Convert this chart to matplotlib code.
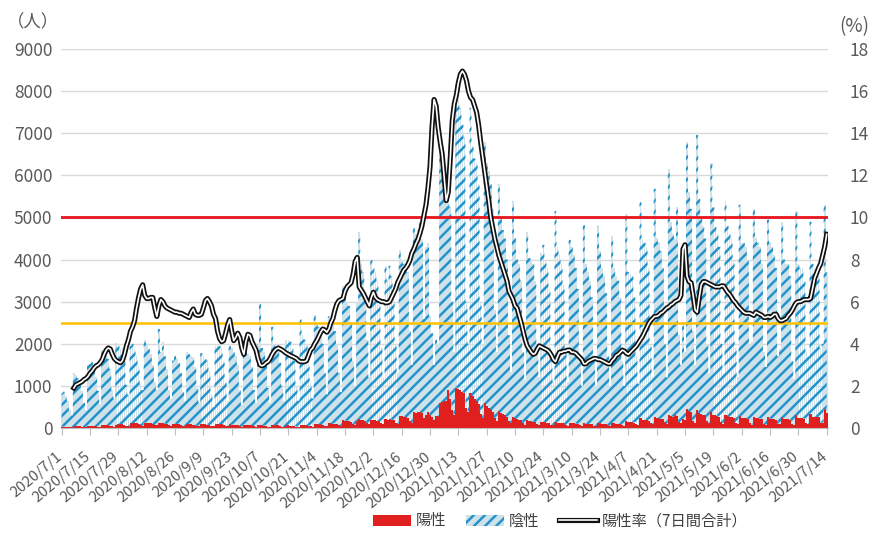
import numpy as np
import pandas as pd
import matplotlib
matplotlib.use('Agg')
import matplotlib.pyplot as plt
from matplotlib.patches import Patch
from matplotlib.lines import Line2D
import matplotlib.patheffects as pe
import matplotlib.transforms as mtransforms

plt.rcParams['font.family'] = ['Noto Sans CJK JP', 'DejaVu Sans']
plt.rcParams['hatch.linewidth'] = 1.8

# ---------------- data ----------------
start_date = '2020-07-01'

# total tested per day (positive + negative)
tested = [
    820, 860, 760, 640, 420, 300,
    1300, 1270, 1180, 1060, 880, 600, 420,
    1500, 1530, 1560, 1420, 1200, 880, 560,
    1850, 1820, 1740, 1640, 1400, 900, 700,
    2030, 1950, 1880, 1900, 1600, 1020, 780,
    1950, 2000, 1880, 1720, 1500, 1050, 900,
    2080, 2000, 1880, 1760, 1500, 1100, 900,
    2350, 1800, 2050, 1700, 1400, 900, 700,
    1600, 1720, 1650, 1550, 1300, 850, 650,
    1800, 1750, 1700, 1680, 1450, 950, 600,
    1780, 1720, 1650, 1600, 1350, 800, 500,
    1950, 2000, 1950, 1900, 1600, 1100, 650,
    1950, 1900, 1800, 1700, 1500, 900, 550,
    1850, 1800, 1750, 1700, 1450, 900, 600,
    2000, 2950, 1900, 1800, 1500, 950, 600,
    2400, 2000, 1900, 1850, 1550, 1000, 650,
    2100, 2100, 2050, 1900, 1600, 1000, 650,
    2580, 2200, 2100, 2000, 1700, 1100, 700,
    2680, 2500, 2400, 2300, 2000, 1300, 800,
    2650, 2600, 2500, 2300, 2000, 1300, 850,
    3380, 3200, 3000, 2900, 2500, 1600, 1000,
    3000, 4650, 3900, 3700, 3200, 2100, 1200,
    4000, 3800, 3700, 3500, 3000, 1900, 1200,
    3850, 3500, 3850, 3600, 3100, 2000, 1300,
    4220, 4000, 3900, 3750, 3700, 2300, 1500,
    4750, 4600, 4700, 4900, 4500, 2600, 4300,
    4400, 2650, 2250, 1500, 2100, 2000, 6800,
    6600, 6400, 6200, 6000, 5250, 3000, 1800,
    8150, 7800, 7600, 7200, 6900, 3000, 2000,
    7600, 6700, 6400, 6300, 5800, 3000, 2000,
    6800, 6300, 6100, 5800, 5200, 2800, 1800,
    5800, 5000, 4700, 4500, 4000, 2200, 1330,
    5400, 4500, 4000, 3900, 3500, 1800, 1140,
    4660, 4040, 4000, 3900, 3500, 1800, 1200,
    4150, 4350, 4000, 3800, 3300, 1800, 1100,
    5150, 4300, 4100, 3900, 3400, 1800, 1100,
    4470, 4300, 4100, 3800, 3300, 1700, 1000,
    4820, 3900, 3700, 3500, 3100, 1600, 1000,
    4800, 4200, 3800, 3600, 3200, 1700, 1000,
    4560, 3800, 3600, 3500, 3100, 1600, 1000,
    5080, 3700, 3650, 3600, 3100, 1700, 1050,
    5360, 4500, 4400, 4300, 3800, 2000, 1200,
    5680, 4500, 4400, 4200, 3800, 2000, 1200,
    6150, 4900, 4600, 4500, 5250, 2200, 1500,
    2500, 1800, 6800, 5600, 5200, 2300, 1500,
    6960, 5440, 5000, 4800, 4500, 2000, 1300,
    6300, 5240, 4780, 4600, 4300, 2000, 1300,
    5400, 4800, 4600, 4500, 4000, 1900, 1220,
    5300, 4400, 4400, 4300, 4000, 2000, 2050,
    5200, 4500, 4400, 4300, 3900, 1800, 1450,
    4950, 4400, 4300, 4100, 3800, 1700, 1880,
    4900, 4000, 3900, 3900, 3600, 1600, 1170,
    5150, 3900, 3800, 3800, 3500, 1800, 1700,
    4900, 3900, 3800, 3700, 3600, 1900, 2000,
    5300, 3700,
]

# positive per day
positive = [
    30, 35, 30, 25, 20, 15,
    40, 45, 45, 40, 35, 25, 20,
    50, 55, 55, 50, 45, 30, 25,
    60, 65, 70, 65, 55, 40, 30,
    80, 85, 90, 85, 75, 55, 40,
    110, 115, 120, 110, 100, 70, 55,
    130, 125, 120, 115, 100, 70, 60,
    120, 115, 110, 105, 95, 65, 50,
    100, 100, 95, 90, 80, 55, 45,
    90, 90, 85, 80, 75, 50, 40,
    90, 85, 85, 80, 70, 50, 40,
    95, 90, 90, 85, 75, 55, 40,
    85, 80, 75, 70, 65, 45, 35,
    80, 75, 70, 65, 60, 40, 30,
    65, 75, 60, 55, 50, 35, 25,
    70, 65, 60, 60, 55, 35, 25,
    60, 60, 55, 55, 50, 35, 25,
    70, 65, 60, 60, 55, 40, 30,
    95, 90, 85, 85, 80, 55, 40,
    115, 110, 105, 100, 95, 65, 50,
    180, 175, 170, 160, 150, 100, 80,
    170, 220, 200, 190, 170, 120, 90,
    200, 190, 180, 170, 160, 110, 85,
    210, 200, 210, 195, 180, 120, 90,
    290, 280, 270, 260, 240, 170, 120,
    370, 360, 370, 380, 350, 240, 300,
    380, 300, 260, 200, 280, 280, 600,
    620, 640, 640, 900, 700, 420, 300,
    960, 920, 900, 860, 820, 480, 380,
    820, 760, 700, 640, 560, 340, 240,
    600, 520, 480, 440, 380, 240, 170,
    400, 360, 330, 300, 270, 170, 120,
    260, 240, 210, 200, 180, 110, 80,
    190, 170, 160, 150, 140, 90, 70,
    150, 150, 140, 130, 120, 80, 60,
    150, 130, 120, 115, 110, 70, 55,
    130, 120, 110, 105, 100, 65, 50,
    120, 100, 95, 95, 90, 55, 45,
    120, 110, 100, 100, 95, 60, 45,
    120, 110, 105, 105, 100, 65, 50,
    170, 150, 145, 140, 130, 85, 65,
    230, 200, 195, 190, 175, 115, 85,
    270, 240, 230, 225, 210, 135, 100,
    320, 290, 270, 300, 280, 140, 120,
    210, 180, 460, 400, 370, 170, 120,
    420, 350, 330, 320, 300, 160, 110,
    380, 320, 300, 290, 270, 140, 100,
    320, 280, 260, 255, 235, 120, 85,
    290, 240, 235, 230, 215, 115, 80,
    270, 240, 235, 225, 205, 100, 80,
    250, 220, 215, 205, 195, 95, 90,
    250, 210, 205, 205, 195, 90, 65,
    300, 240, 235, 235, 220, 110, 100,
    340, 270, 265, 260, 250, 125, 130,
    440, 350,
]

# 7-day positive rate (%), starts on 2020/7/7
rate = [np.nan] * 6 + [
    1.9, 2.05, 2.1, 2.15, 2.2, 2.3, 2.35,
    2.45, 2.6, 2.7, 2.85, 2.95, 3.0, 3.1,
    3.25, 3.5, 3.7, 3.8, 3.75, 3.5, 3.3,
    3.2, 3.15, 3.1, 3.2, 3.5, 3.9, 4.2,
    4.6, 4.8, 5.1, 5.7, 6.2, 6.6, 6.8,
    6.3, 6.15, 6.15, 6.2, 6.2, 5.7, 5.3,
    5.8, 6.1, 6.0, 5.8, 5.7, 5.65, 5.6,
    5.55, 5.5, 5.5, 5.45, 5.45, 5.4, 5.35,
    5.3, 5.25, 5.5, 5.65, 5.4, 5.35, 5.35,
    5.4, 5.7, 6.05, 6.15, 6.0, 5.8, 5.4,
    5.2, 4.6, 4.25, 4.1, 4.15, 4.5, 4.9,
    5.15, 4.6, 4.15, 4.3, 4.5, 4.3, 3.8,
    3.5, 4.1, 4.45, 4.4, 4.1, 3.9, 3.7,
    3.3, 3.0, 2.95, 3.0, 3.1, 3.15, 3.3,
    3.5, 3.65, 3.75, 3.8, 3.75, 3.7, 3.62,
    3.55, 3.5, 3.44, 3.4, 3.35, 3.3, 3.2,
    3.15, 3.15, 3.15, 3.2, 3.45, 3.7, 3.8,
    4.0, 4.15, 4.35, 4.55, 4.7, 4.65, 4.55,
    4.7, 5.0, 5.2, 5.6, 5.9, 6.05, 6.1,
    6.15, 6.5, 6.7, 6.8, 6.9, 7.3, 7.9,
    8.1, 6.7, 6.55, 6.4, 6.2, 6.0, 5.8,
    6.2, 6.45, 6.2, 6.1, 6.05, 6.0, 6.0,
    5.95, 5.95, 6.0, 6.2, 6.4, 6.6, 6.9,
    7.1, 7.3, 7.5, 7.6, 7.75, 7.95, 8.3,
    8.5, 8.75, 8.95, 9.25, 9.6, 10.1, 10.6,
    11.4, 12.4, 14.3, 15.6, 15.3, 14.3, 13.6,
    13.0, 11.9, 10.8, 11.2, 12.8, 14.6, 15.4,
    15.8, 16.4, 16.8, 16.95, 16.8, 16.5, 16.0,
    15.7, 15.6, 15.3, 15.0, 14.4, 13.6, 12.9,
    12.2, 11.5, 10.8, 10.0, 9.5, 9.0, 8.6,
    8.2, 7.9, 7.6, 7.3, 7.0, 6.5, 6.3,
    6.1, 5.8, 5.7, 5.35, 5.0, 4.6, 4.2,
    3.9, 3.75, 3.6, 3.5, 3.55, 3.75, 3.9,
    3.85, 3.8, 3.75, 3.7, 3.6, 3.45, 3.25,
    3.15, 3.4, 3.6, 3.6, 3.65, 3.65, 3.7,
    3.7, 3.6, 3.6, 3.55, 3.45, 3.35, 3.25,
    3.05, 3.05, 3.15, 3.2, 3.25, 3.3, 3.3,
    3.25, 3.25, 3.2, 3.15, 3.1, 3.05, 3.05,
    3.2, 3.3, 3.45, 3.5, 3.6, 3.7, 3.65,
    3.55, 3.5, 3.6, 3.7, 3.8, 3.9, 4.05,
    4.2, 4.35, 4.55, 4.75, 4.95, 5.1, 5.2,
    5.3, 5.3, 5.35, 5.45, 5.5, 5.6, 5.7,
    5.75, 5.85, 5.9, 6.0, 6.05, 6.1, 6.3,
    8.5, 8.7, 7.2, 6.95, 6.9, 6.3, 5.6,
    5.5, 6.2, 6.8, 6.95, 6.95, 6.9, 6.85,
    6.8, 6.75, 6.7, 6.7, 6.7, 6.75, 6.75,
    6.6, 6.45, 6.35, 6.2, 6.05, 5.95, 5.8,
    5.7, 5.6, 5.5, 5.45, 5.45, 5.45, 5.4,
    5.35, 5.5, 5.45, 5.4, 5.35, 5.25, 5.25,
    5.3, 5.25, 5.3, 5.4, 5.4, 5.2, 5.1,
    5.1, 5.15, 5.2, 5.35, 5.45, 5.6, 5.8,
    5.95, 6.0, 6.0, 6.05, 6.1, 6.1, 6.1,
    6.15, 6.6, 7.1, 7.35, 7.6, 7.8, 8.2,
    8.6, 9.2,
]

xtick_labels = ['2020/7/1', '2020/7/15', '2020/7/29', '2020/8/12', '2020/8/26',
                '2020/9/9', '2020/9/23', '2020/10/7', '2020/10/21', '2020/11/4',
                '2020/11/18', '2020/12/2', '2020/12/16', '2020/12/30', '2021/1/13',
                '2021/1/27', '2021/2/10', '2021/2/24', '2021/3/10', '2021/3/24',
                '2021/4/7', '2021/4/21', '2021/5/5', '2021/5/19', '2021/6/2',
                '2021/6/16', '2021/6/30', '2021/7/14']

left_ticks = list(range(0, 9001, 1000))
right_ticks = list(range(0, 19, 2))
line_red_level = 5000      # = 10 %
line_yellow_level = 2500   # = 5 %

series_labels = ['陽性', '陰性', '陽性率（7日間合計）']

# ---------------- derived ----------------
dates = pd.date_range(start_date, periods=len(tested), freq='D')
x = np.arange(len(dates))
tested_a = np.array(tested, dtype=float)
positive_a = np.array(positive, dtype=float)
negative_a = tested_a - positive_a
rate_a = np.array(rate, dtype=float)
tick_pos = [dates.get_loc(pd.Timestamp(lbl.replace('/', '-'))) for lbl in xtick_labels]

# ---------------- figure ----------------
W, H = 872, 536
fig = plt.figure(figsize=(W / 100, H / 100), dpi=100)
ax = fig.add_axes([60.7 / W, 108 / H, 767 / W, 379 / H])

RED = '#e01f1f'
TXT = '#595959'
NEG_FACE = '#cfe2ea'
NEG_HATCH = '#2393cc'

ax.bar(x, positive_a, width=1.0, color=RED, linewidth=0, zorder=2)
ax.bar(x, negative_a, bottom=positive_a, width=0.85, color=NEG_FACE,
       linewidth=0, zorder=2)
# diagonal stripe pattern of the negative bars
ax.fill_between(x, positive_a, tested_a, step='mid', facecolor='none',
                edgecolor=NEG_HATCH, hatch='///', linewidth=0, zorder=2.1)

ax.axhline(line_red_level, color='#e8141c', lw=2.0, zorder=3)
ax.axhline(line_yellow_level, color='#ffc000', lw=1.8, zorder=3)

ax.set_xlim(-0.5, len(x) - 0.5)
ax.set_ylim(0, 9000)
ax.set_yticks(left_ticks)
ax.set_yticklabels([str(v) for v in left_ticks])
ax.yaxis.grid(True, color='#d9d9d9', lw=1.0)
ax.set_axisbelow(True)
for s in ['top', 'left', 'right']:
    ax.spines[s].set_visible(False)
ax.spines['bottom'].set_color('#bfbfbf')
ax.tick_params(axis='y', length=0, labelsize=12.5, labelcolor=TXT, pad=6)
ax.set_xticks(tick_pos)
ax.set_xticklabels(xtick_labels, rotation=40, ha='right', va='top',
                   rotation_mode='anchor')
ax.tick_params(axis='x', length=5, color='#bfbfbf', direction='out',
               labelsize=10.8, labelcolor=TXT, pad=10.5)
offset = mtransforms.ScaledTranslation(-6 / 100, 0, fig.dpi_scale_trans)
for lbl in ax.get_xticklabels():
    lbl.set_transform(lbl.get_transform() + offset)

ax2 = ax.twinx()
ax2.set_ylim(0, 18)
ax2.set_yticks(right_ticks)
ax2.set_yticklabels([str(v) for v in right_ticks])
for s in ax2.spines.values():
    s.set_visible(False)
ax2.tick_params(axis='y', length=0, labelsize=12.5, labelcolor=TXT, pad=16)
stroke = [pe.Stroke(linewidth=3.7, foreground='#111111'), pe.Normal()]
ax2.plot(x, rate_a, color='white', lw=1.2, path_effects=stroke,
         solid_joinstyle='round', zorder=5)

fig.text(33 / W, 1 - 22 / H, '（人）', ha='center', va='center', fontsize=12.5, color=TXT)
fig.text(854 / W, 1 - 27 / H, '(%)', ha='center', va='center', fontsize=13.5, color=TXT)

handles = [Patch(facecolor=RED, edgecolor='none'),
           Patch(facecolor=NEG_FACE, edgecolor=NEG_HATCH, hatch='///', linewidth=0),
           Line2D([0], [0], color='white', lw=1.2, path_effects=stroke)]
fig.legend(handles, series_labels, loc='center', bbox_to_anchor=(560 / W, 1 - 521 / H),
           ncol=3, frameon=False, fontsize=11, handlelength=2.5, handletextpad=0.3,
           columnspacing=1.3, labelcolor='#404040')

fig.savefig('out.png', dpi=100)
